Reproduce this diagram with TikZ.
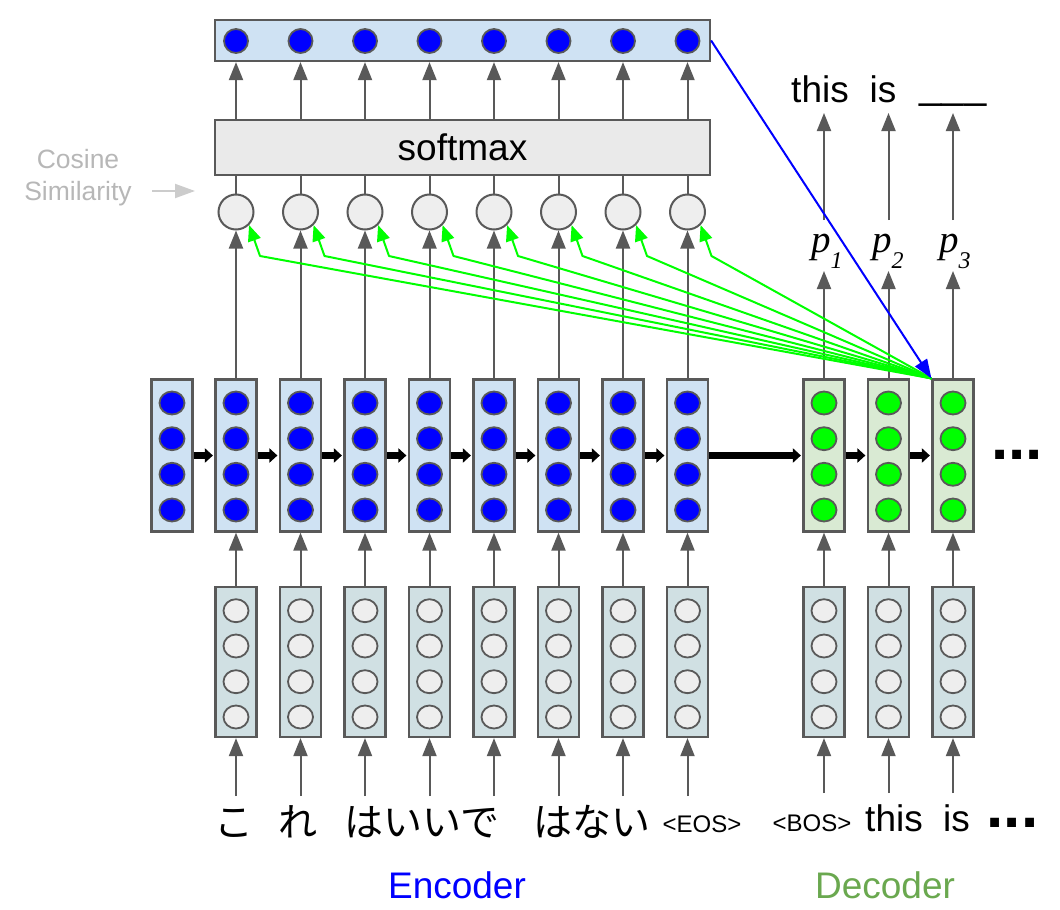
\documentclass[tikz,border=0pt]{standalone}
\usepackage{fontspec}
\setmainfont{Liberation Sans}
\newfontfamily\jpfont{Noto Sans CJK JP}
\newfontfamily\timesfont{Liberation Serif}
\usetikzlibrary{arrows.meta,shapes.geometric,calc}
\newcommand\fsz[1]{\fontsize{#1}{#1}\selectfont}
\definecolor{lg}{HTML}{595959}
\definecolor{hblue}{HTML}{CFE2F3}
\definecolor{eblue}{HTML}{D0E0E3}
\definecolor{dgreen}{HTML}{D9EAD3}
\definecolor{cgray}{HTML}{EEEEEE}
\definecolor{smgray}{HTML}{EAEAEA}
\definecolor{cosgray}{HTML}{B7B7B7}
\definecolor{cosarrow}{HTML}{CCCCCC}
\definecolor{decgreen}{HTML}{6AA84F}
\definecolor{brightgreen}{HTML}{00FF00}
\definecolor{pureblue}{HTML}{0000FF}
\tikzset{
  hbox/.style={draw=lg, line width=2.2pt, minimum width=41pt, minimum height=152pt, inner sep=0pt},
  ebox/.style={draw=lg, line width=2.2pt, fill=eblue, minimum width=41pt, minimum height=150pt, inner sep=0pt},
  neuron/.style={ellipse, draw=lg, line width=1.8pt, minimum width=25pt, minimum height=23pt, inner sep=0pt},
  cosc/.style={circle, draw=lg, line width=2pt, fill=cgray, minimum size=35pt, inner sep=0pt},
  topc/.style={circle, draw=lg, line width=1.8pt, fill=pureblue, minimum size=24pt, inner sep=0pt},
  garrow/.style={draw=lg, line width=2pt, -{Triangle[length=18pt,width=14pt]}},
  gline/.style={draw=lg, line width=2pt},
  barrow/.style={draw=black, line width=7pt, -{Triangle[length=8pt,width=14pt]}, shorten >=1.5pt},
  grnarrow/.style={draw=brightgreen, line width=2pt, line join=round, -{Triangle[length=16pt,width=13pt]}},
  bluarrow/.style={draw=pureblue, line width=2pt, -{Triangle[length=19pt,width=14pt]}},
  cosarr/.style={draw=cosarrow, line width=2pt, -{Triangle[length=20pt,width=14pt]}},
  jp/.style={font=\jpfont\fsz{39}, inner sep=0pt},
  lbl/.style={font=\fsz{37}, inner sep=0pt},
}
\begin{document}
\begin{tikzpicture}[x=1pt,y=-1pt]
\useasboundingbox (0,0) rectangle (1060,910);

% ---------- top bar and softmax ----------
\node[draw=lg, line width=2.2pt, fill=hblue, minimum width=495pt, minimum height=41pt, inner sep=0pt] (bar) at (462.5,40.5) {};
\node[draw=lg, line width=2.2pt, fill=smgray, minimum width=495pt, minimum height=55pt, inner sep=0pt, font=\fsz{37}] (sm) at (462.5,147.5) {softmax};

% ---------- encoder ----------
\node[hbox, fill=hblue] (h0) at (172,455.5) {};
\foreach \k/\yy in {1/403,2/438.7,3/474.3,4/510}
  \node[neuron, fill=pureblue] (h0u\k) at (172,\yy) {};

\foreach \x [count=\i] in {236,300.5,365,429.5,494,558.5,623,687.5} {
  \node[hbox, fill=hblue] (h\i) at (\x,455.5) {};
  \node[ebox] (ee\i) at (\x,662) {};
  \foreach \k/\yy in {1/403,2/438.7,3/474.3,4/510}
    \node[neuron, fill=pureblue] (h\i u\k) at (\x,\yy) {};
  \foreach \k/\yy in {1/610.7,2/646,3/681.7,4/717}
    \node[neuron, fill=cgray] (ee\i u\k) at (\x,\yy) {};
  \node[cosc] (c\i) at (\x,212) {};
  \node[topc] (t\i) at (\x,41) {};
  \coordinate (b\i) at (\x,796);
  \draw[garrow] (b\i) -- (ee\i.south);
  \draw[garrow] (ee\i.north) -- (h\i.south);
  \draw[garrow] (h\i.north) -- (c\i.south);
  \draw[gline] (c\i.north) -- (c\i.north |- sm.south);
  \draw[garrow] (t\i |- sm.north) -- (t\i |- bar.south);
}

% ---------- decoder ----------
\foreach \x [count=\i] in {824,888.5,953} {
  \node[hbox, fill=dgreen] (d\i) at (\x,455.5) {};
  \node[ebox] (de\i) at (\x,662) {};
  \foreach \k/\yy in {1/403,2/438.7,3/474.3,4/510}
    \node[neuron, fill=brightgreen] (d\i u\k) at (\x,\yy) {};
  \foreach \k/\yy in {1/610.7,2/646,3/681.7,4/717}
    \node[neuron, fill=cgray] (de\i u\k) at (\x,\yy) {};
  \coordinate (db\i) at (\x,793);
  \coordinate (pl\i) at (\x,271);
  \coordinate (pu\i) at (\x,220);
  \coordinate (pt\i) at (\x,113);
  \draw[garrow] (db\i) -- (de\i.south);
  \draw[garrow] (de\i.north) -- (d\i.south);
  \draw[garrow] (d\i.north) -- (pl\i);
  \draw[garrow] (pu\i) -- (pt\i);
}

% ---------- recurrent arrows ----------
\foreach \a/\b in {h0/h1,h1/h2,h2/h3,h3/h4,h4/h5,h5/h6,h6/h7,h7/h8,h8/d1,d1/d2,d2/d3}
  \draw[barrow] (\a.east) -- (\b.west);

% ---------- attention arrows ----------
\foreach \i in {1,...,8}
  \draw[grnarrow] (d3.north west) -- ($(c\i)+(24,44)$) -- (c\i.-45);
\draw[bluarrow] (bar.east) -- (d3.north west);

% ---------- cosine similarity label ----------
\node[anchor=base, font=\fsz{26.5}, text=cosgray, inner sep=0pt] (cos1) at (78,168) {Cosine};
\node[anchor=base, font=\fsz{26.5}, text=cosgray, inner sep=0pt] (cos2) at (78,200) {Similarity};
\coordinate (ca) at (152,191);
\coordinate (cb) at (195,191);
\draw[cosarr] (ca) -- (cb);

% ---------- p labels ----------
\node[anchor=base west, inner sep=0pt, font=\timesfont\itshape\fsz{39}] (p1) at (811,252) {p\raisebox{-16pt}{\fsz{24}1}};
\node[anchor=base west, inner sep=0pt, font=\timesfont\itshape\fsz{39}] (p2) at (872,252) {p\raisebox{-16pt}{\fsz{24}2}};
\node[anchor=base west, inner sep=0pt, font=\timesfont\itshape\fsz{39}] (p3) at (939,252) {p\raisebox{-16pt}{\fsz{24}3}};

% ---------- output words ----------
\node[lbl, anchor=base] (o1) at (820,102) {this};
\node[lbl, anchor=base] (o2) at (883,102) {is};
\node[anchor=base, inner sep=0pt, font=\fsz{40}] (o3) at (953,98) {\_\_\_};

% ---------- input words ----------
\node[jp, anchor=base] (w1) at (234,836) {こ};
\node[jp, anchor=base] (w2) at (298,836) {れ};
\node[jp, anchor=base] (w3) at (422,836) {はいいで};
\node[jp, anchor=base] (w4) at (592,836) {はない};
\node[anchor=base, inner sep=0pt, font=\fsz{24}] (w5) at (702,832) {<EOS>};
\node[anchor=base, inner sep=0pt, font=\fsz{24}] (v1) at (812,831) {<BOS>};
\node[lbl, anchor=base] (v2) at (894,831.5) {this};
\node[lbl, anchor=base] (v3) at (956.5,831.5) {is};
\node[anchor=base, inner sep=0pt, font=\bfseries\fsz{62}] (v4) at (1012.5,827) {...};
\node[anchor=base, inner sep=0pt, font=\bfseries\fsz{62}] (mdots) at (1017,459) {...};

% ---------- section labels ----------
\node[lbl, anchor=base, text=pureblue] (enc) at (457,898) {Encoder};
\node[lbl, anchor=base, text=decgreen] (dec) at (885,898) {Decoder};
\end{tikzpicture}
\end{document}
